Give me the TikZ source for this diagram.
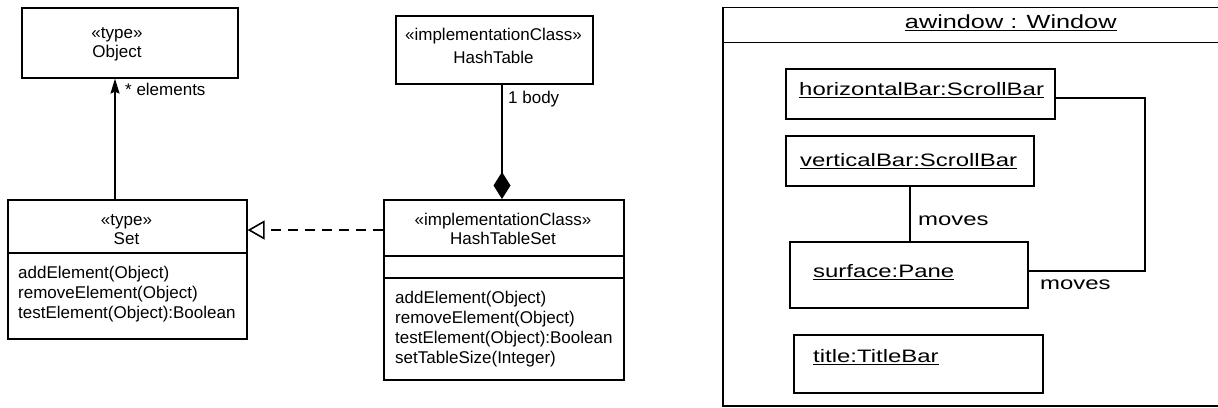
\documentclass[tikz,border=0pt]{standalone}
\usepackage{fontspec}
\setmainfont{Liberation Sans}
\newfontfamily\objfont[FakeStretch=1.33]{Liberation Sans}
\usetikzlibrary{arrows.meta,calc}
\newcommand\myul[1]{\setbox0\hbox{#1}\rlap{\rule[-2.8pt]{\wd0}{1.3pt}}\box0}
\begin{document}
\begin{tikzpicture}[x=1pt,y=-1pt,
  umlbox/.style={draw, line width=1.6pt, inner sep=0pt, anchor=north west},
  objbox/.style={draw, line width=2.2pt, inner sep=0pt, anchor=north west},
  umltext/.style={font=\fontsize{17}{20}\selectfont, inner sep=0pt, anchor=base},
  umlops/.style={font=\fontsize{17}{20}\selectfont, inner sep=0pt, anchor=base west, align=left},
  objtext/.style={font=\objfont\fontsize{18}{21}\selectfont, inner sep=0pt, anchor=base west},
  conn/.style={line width=1.6pt},
  objconn/.style={line width=2.2pt}]
\clip (0,0) rectangle (1218,407);
\fill[white] (0,0) rectangle (1218,407);

% ---- Object
\node[umlbox, minimum width=216pt, minimum height=70pt] (obj) at (21,7) {};
\node[umltext] (objst) at (117,38) {«type»};
\node[umltext] (objnm) at (117,57) {Object};

% ---- Set
\node[umlbox, minimum width=239pt, minimum height=139pt] (set) at (7,199) {};
\draw[conn] ($(set.north west)+(0,54)$) -- ($(set.north east)+(0,54)$);
\node[umltext] (setst) at (126.5,225) {«type»};
\node[umltext] (setnm) at (126.5,244) {Set};
% base anchor of a multi-line node lies on its last line
\node[umlops] (setops) at (18,318) {addElement(Object)\\removeElement(Object)\\testElement(Object):Boolean};

% ---- HashTable
\node[umlbox, minimum width=197pt, minimum height=68pt] (ht) at (395,15) {};
\node[umltext] (htst) at (493.5,40) {«implementationClass»};
\node[umltext] (htnm) at (493.5,63) {HashTable};

% ---- HashTableSet
\node[umlbox, minimum width=240pt, minimum height=180pt] (hts) at (383,199) {};
\draw[conn] ($(hts.north west)+(0,57)$) -- ($(hts.north east)+(0,57)$);
\draw[conn] ($(hts.north west)+(0,79)$) -- ($(hts.north east)+(0,79)$);
\node[umltext] (htsst) at (503,225) {«implementationClass»};
\node[umltext] (htsnm) at (503,244) {HashTableSet};
\node[umlops] (htsops) at (395,363) {addElement(Object)\\removeElement(Object)\\testElement(Object):Boolean\\setTableSize(Integer)};

% ---- UML connectors
\coordinate (ax) at (115,0);
\draw[conn, -{Stealth[length=15pt,width=9pt,inset=2pt]}] (set.north -| ax) -- (obj.south -| ax);
\node[umltext, anchor=base west] (elab) at (125,95) {* elements};

\coordinate (cx) at (502,0);
\draw[conn, {Diamond[length=27pt,width=17pt]}-] (hts.north -| cx) -- (ht.south -| cx);
\node[umltext, anchor=base west] (blab) at (508,103) {1 body};

\coordinate (ry) at (0,230);
\draw[conn, dash pattern=on 10pt off 7pt, -{Triangle[open,length=17pt,width=19pt,fill=white]}] (hts.west |- ry) -- (set.east |- ry);

% ---- Object diagram
\node[draw, line width=1.5pt, inner sep=0pt, anchor=north west, minimum width=576pt, minimum height=398.5pt] (win) at (722,6.5) {};
\draw[line width=1.5pt] ($(win.north west)+(0,36)$) -- ($(win.north east)+(0,36)$);
\node[objtext, anchor=base, font=\objfont\fontsize{19}{22}\selectfont] (wt) at ($(win.north)+(0,21.5)$) {\myul{awindow : Window}};

\node[objbox, minimum width=269pt, minimum height=50pt] (hbar) at (785,68) {};
\node[objtext] (hbart) at (799,95) {\myul{horizontalBar:ScrollBar}};
\node[objbox, minimum width=248pt, minimum height=50pt] (vbar) at (785,135) {};
\node[objtext] (vbart) at (800,166) {\myul{verticalBar:ScrollBar}};
\node[objbox, minimum width=238pt, minimum height=66pt] (surf) at (789,241) {};
\node[objtext] (surft) at (813,277) {\myul{surface:Pane}};
\node[objbox, minimum width=249pt, minimum height=58pt] (titleb) at (793,334) {};
\node[objtext] (titlet) at (813,362) {\myul{title:TitleBar}};

\coordinate (mx) at (1145,0);
\coordinate (he) at ([yshift=-4pt]hbar.east);
\coordinate (se) at ([yshift=4pt]surf.east);
\draw[objconn] (he) -| (mx |- se) -- (se);
\node[objtext] (mv1) at (1040,289) {moves};
\draw[objconn] (vbar.south) -- (vbar.south |- surf.north);
\node[objtext] (mv2) at (918,225) {moves};
\end{tikzpicture}
\end{document}
